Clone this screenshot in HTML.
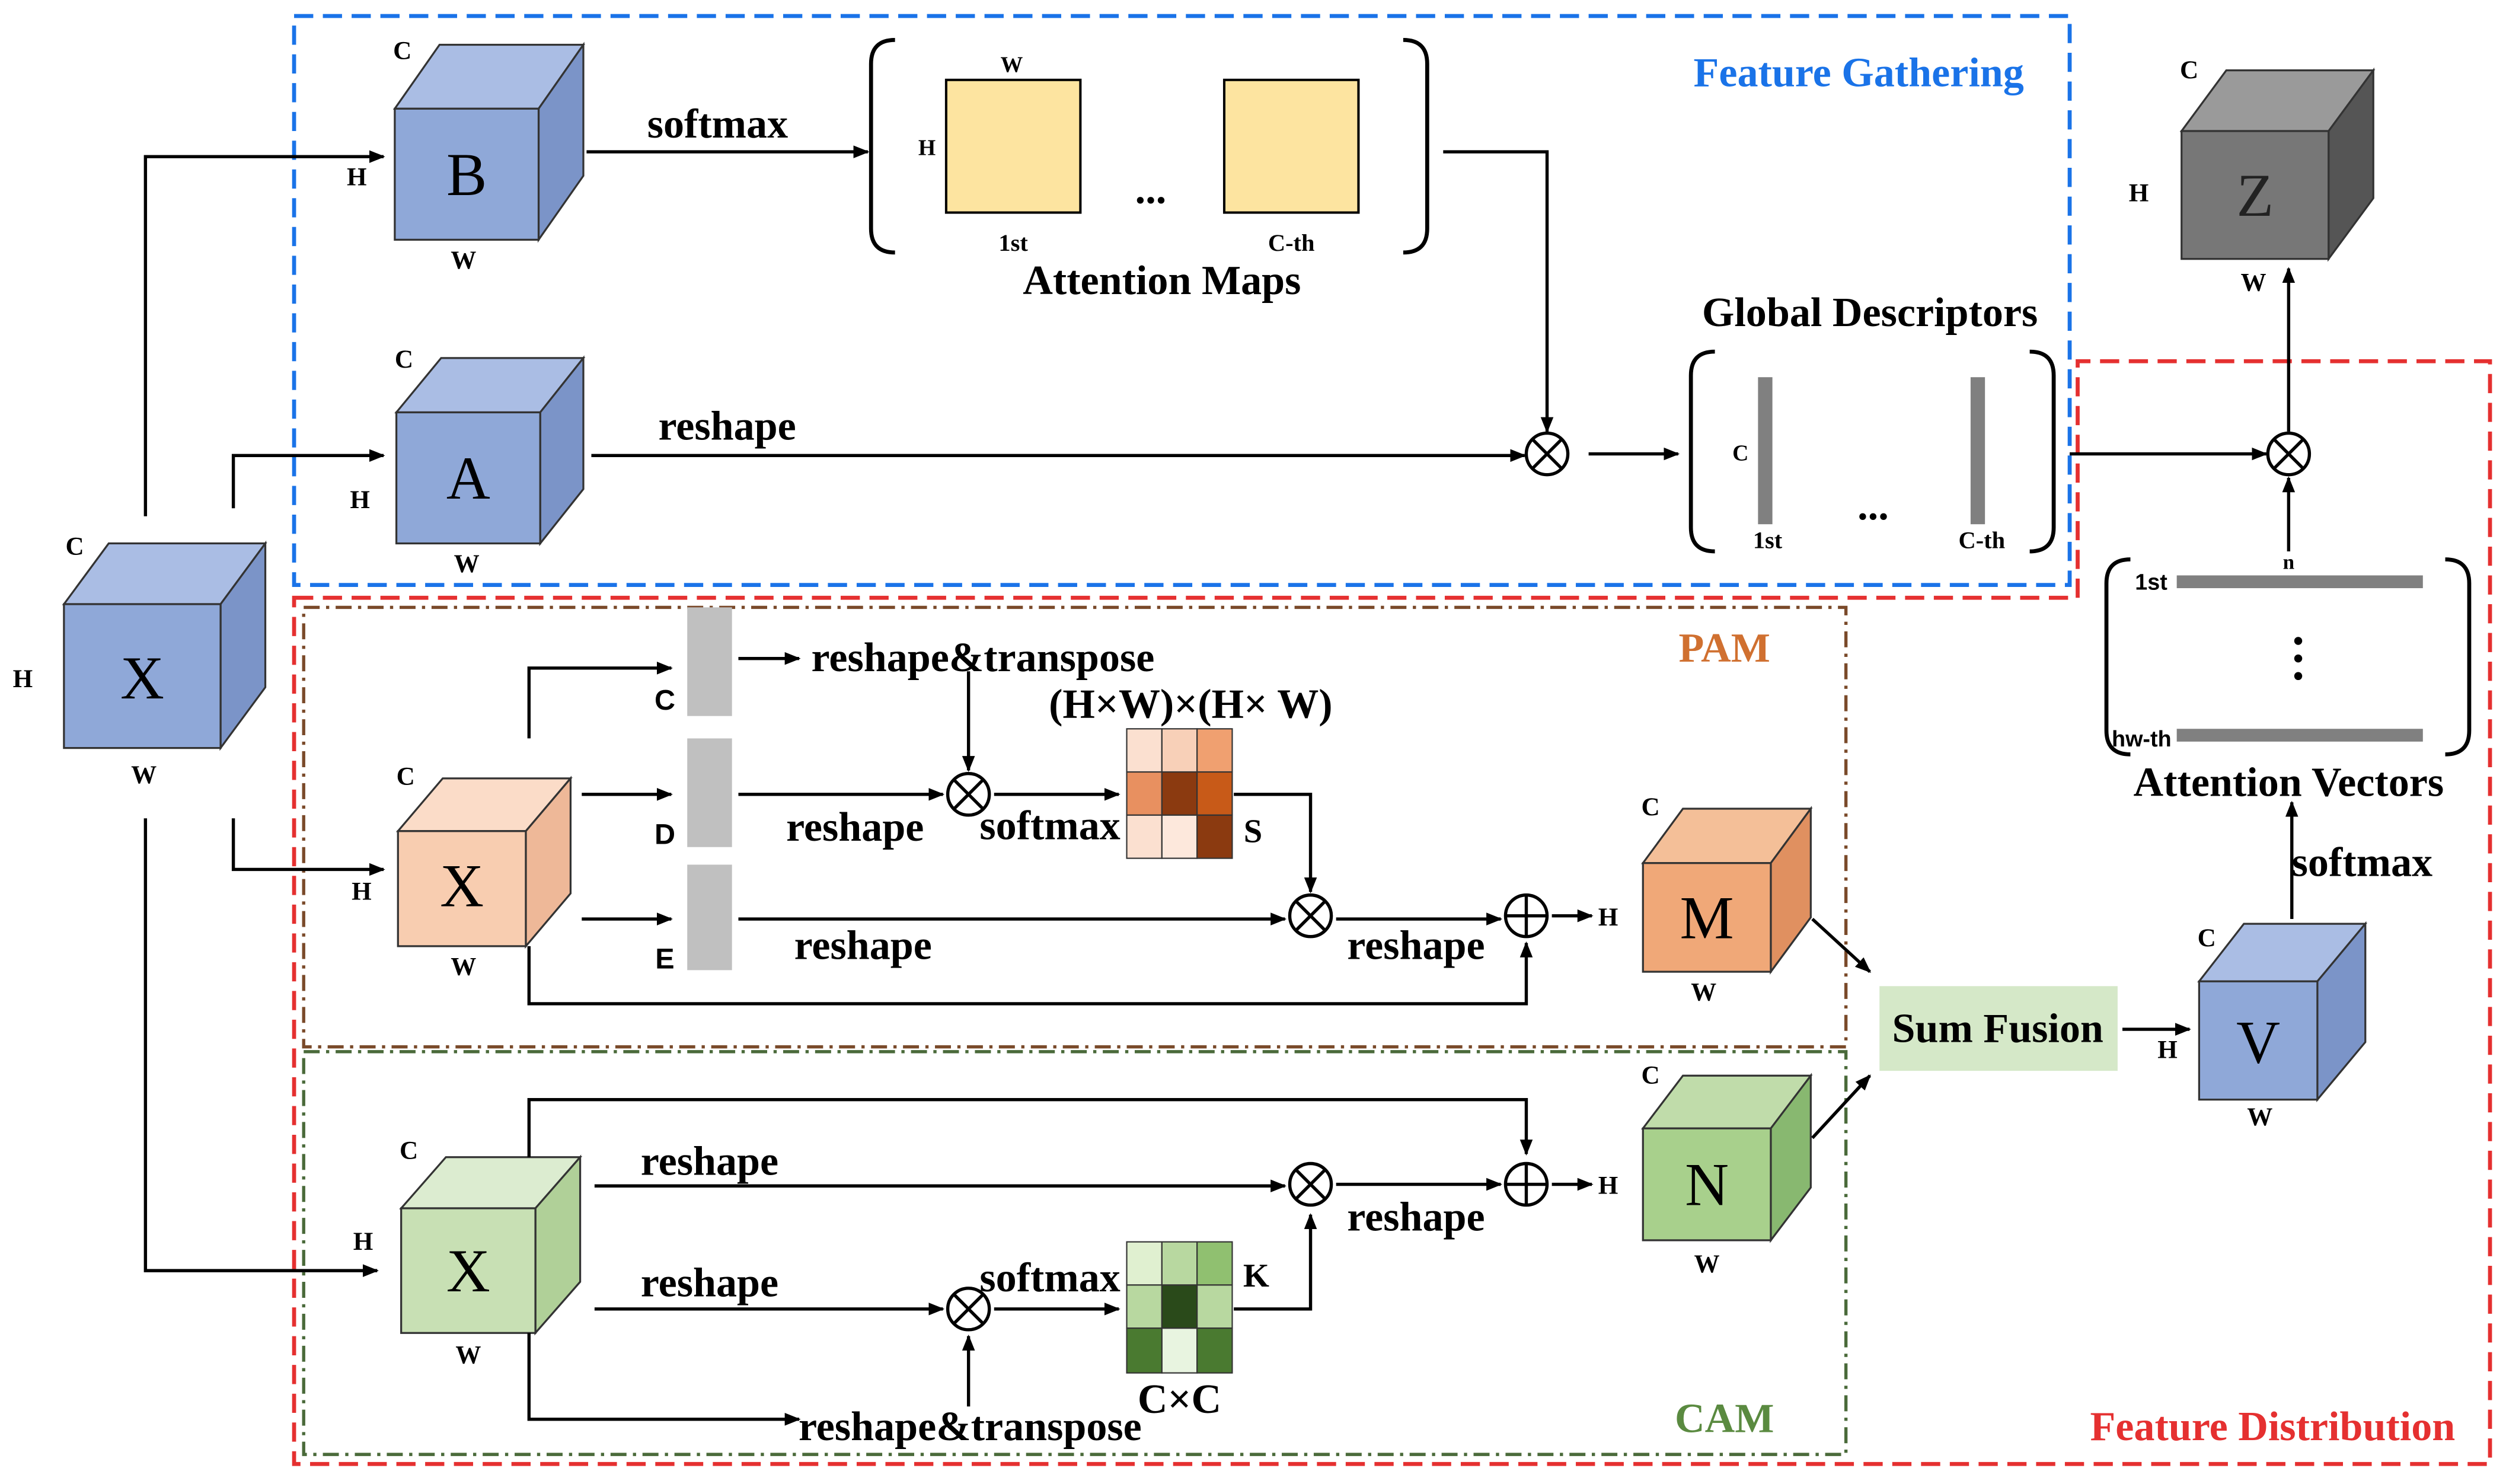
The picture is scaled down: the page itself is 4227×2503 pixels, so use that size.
<!DOCTYPE html>
<html><head><meta charset="utf-8"><style>
html,body{margin:0;padding:0;background:#fff}
svg{display:block}
text{font-family:"Liberation Serif",serif;font-weight:bold;fill:#000}
.s{font-size:26px}
.sm{font-size:16px}
.big{font-size:38px;font-weight:normal}
.sans{font-family:"Liberation Sans",sans-serif}
</style></head><body>
<svg width="4227" height="2503" viewBox="0 0 1568 928.5" xmlns="http://www.w3.org/2000/svg">
<defs>
<marker id="ar" markerWidth="10" markerHeight="10" refX="9" refY="5" orient="auto" markerUnits="userSpaceOnUse"><path d="M0,1 L10,5 L0,9 z" fill="#000"/></marker>
</defs>
<rect width="1568" height="928.5" fill="#fff"/>

<rect x="184" y="10" width="1111" height="356" fill="none" stroke="#1a73e8" stroke-width="2.5" stroke-dasharray="12,6"/>
<path d="M184,374 H1300 V226 H1558 V916 H184 Z" fill="none" stroke="#e53030" stroke-width="2.5" stroke-dasharray="12,6"/>
<rect x="190" y="380" width="965" height="275" fill="none" stroke="#7a4a2a" stroke-width="2" stroke-dasharray="10,4,2,4"/>
<rect x="190" y="658" width="965" height="252" fill="none" stroke="#4a6a3a" stroke-width="2" stroke-dasharray="10,4,2,4"/>
<text x="1163" y="54" class="s" text-anchor="middle" style="fill:#1a73e8">Feature Gathering</text>
<text x="1079" y="414" class="s" text-anchor="middle" style="fill:#d07030">PAM</text>
<text x="1079" y="896" class="s" text-anchor="middle" style="fill:#5a8a40">CAM</text>
<text x="1422" y="901" class="s" text-anchor="middle" style="fill:#e53030">Feature Distribution</text>

<g stroke="#333" stroke-width="1.2">
<polygon points="40,378 68,340 166,340 138,378" fill="#aabde4"/>
<polygon points="138,378 166,340 166,430 138,468" fill="#7b94c8"/>
<rect x="40" y="378" width="98" height="90" fill="#8fa8d8"/>
<polygon points="247,68 275,28 365,28 337,68" fill="#aabde4"/>
<polygon points="337,68 365,28 365,110 337,150" fill="#7b94c8"/>
<rect x="247" y="68" width="90" height="82" fill="#8fa8d8"/>
<polygon points="248,258 276,224 365,224 338,258" fill="#aabde4"/>
<polygon points="338,258 365,224 365,306 338,340" fill="#7b94c8"/>
<rect x="248" y="258" width="90" height="82" fill="#8fa8d8"/>
<polygon points="1365,82 1393,44 1485,44 1457,82" fill="#9a9a9a"/>
<polygon points="1457,82 1485,44 1485,124 1457,162" fill="#555"/>
<rect x="1365" y="82" width="92" height="80" fill="#777"/>
<polygon points="249,520 277,487 357,487 329,520" fill="#fbdcc8"/>
<polygon points="329,520 357,487 357,559 329,592" fill="#eeb898"/>
<rect x="249" y="520" width="80" height="72" fill="#f8cdb0"/>
<polygon points="1028,540 1053,506 1133,506 1108,540" fill="#f4bf98"/>
<polygon points="1108,540 1133,506 1133,574 1108,608" fill="#e09060"/>
<rect x="1028" y="540" width="80" height="68" fill="#f0a878"/>
<polygon points="251,756 279,724 363,724 335,756" fill="#dcecd0"/>
<polygon points="335,756 363,724 363,802 335,834" fill="#b0d098"/>
<rect x="251" y="756" width="84" height="78" fill="#c8e0b4"/>
<polygon points="1028,706 1053,673 1133,673 1108,706" fill="#c0dcaa"/>
<polygon points="1108,706 1133,673 1133,743 1108,776" fill="#88b870"/>
<rect x="1028" y="706" width="80" height="70" fill="#a8d08c"/>
<polygon points="1376,614 1404,578 1480,578 1450,614" fill="#aabde4"/>
<polygon points="1450,614 1480,578 1480,652 1450,688" fill="#7b94c8"/>
<rect x="1376" y="614" width="74" height="74" fill="#8fa8d8"/>
</g>

<text x="89" y="437" class="big" text-anchor="middle">X</text>
<text x="41" y="347" class="sm">C</text><text x="8" y="430" class="sm">H</text><text x="90" y="490" class="sm" text-anchor="middle">W</text>
<text x="292" y="122" class="big" text-anchor="middle">B</text>
<text x="246" y="37" class="sm">C</text><text x="217" y="116" class="sm">H</text><text x="290" y="168" class="sm" text-anchor="middle">W</text>
<text x="293" y="312" class="big" text-anchor="middle">A</text>
<text x="247" y="230" class="sm">C</text><text x="219" y="318" class="sm">H</text><text x="292" y="358" class="sm" text-anchor="middle">W</text>
<text x="1411" y="135" class="big" text-anchor="middle" style="fill:#222">Z</text>
<text x="1364" y="49" class="sm">C</text><text x="1332" y="126" class="sm">H</text><text x="1410" y="182" class="sm" text-anchor="middle">W</text>
<text x="289" y="567" class="big" text-anchor="middle">X</text>
<text x="248" y="491" class="sm">C</text><text x="220" y="563" class="sm">H</text><text x="290" y="610" class="sm" text-anchor="middle">W</text>
<text x="1068" y="587" class="big" text-anchor="middle">M</text>
<text x="1027" y="510" class="sm">C</text><text x="1066" y="626" class="sm" text-anchor="middle">W</text>
<text x="293" y="808" class="big" text-anchor="middle">X</text>
<text x="250" y="725" class="sm">C</text><text x="221" y="782" class="sm">H</text><text x="293" y="853" class="sm" text-anchor="middle">W</text>
<text x="1068" y="754" class="big" text-anchor="middle">N</text>
<text x="1027" y="678" class="sm">C</text><text x="1068" y="796" class="sm" text-anchor="middle">W</text>
<text x="1413" y="665" class="big" text-anchor="middle">V</text>
<text x="1375" y="592" class="sm">C</text><text x="1350" y="662" class="sm">H</text><text x="1414" y="704" class="sm" text-anchor="middle">W</text>

<g fill="none" stroke="#000" stroke-width="2.5">
<path d="M560,25 Q545,25 545,40 V143 Q545,158 560,158"/>
<path d="M878,25 Q893,25 893,40 V143 Q893,158 878,158"/>
<path d="M1073,220 Q1058,220 1058,235 V330 Q1058,345 1073,345"/>
<path d="M1270,220 Q1285,220 1285,235 V330 Q1285,345 1270,345"/>
<path d="M1333,350 Q1318,350 1318,365 V457 Q1318,472 1333,472"/>
<path d="M1530,350 Q1545,350 1545,365 V457 Q1545,472 1530,472"/>
</g>
<rect x="592" y="50" width="84" height="83" fill="#fde4a0" stroke="#000" stroke-width="1.5"/>
<rect x="766" y="50" width="84" height="83" fill="#fde4a0" stroke="#000" stroke-width="1.5"/>
<text x="720" y="127" class="s" text-anchor="middle">...</text>
<text x="633" y="45" class="sm" text-anchor="middle" style="font-size:14px">W</text>
<text x="580" y="97" class="sm" text-anchor="middle" style="font-size:14px">H</text>
<text x="634" y="157" class="sm" text-anchor="middle" style="font-size:15px">1st</text>
<text x="808" y="157" class="sm" text-anchor="middle" style="font-size:15px">C-th</text>
<text x="727" y="184" class="s" text-anchor="middle">Attention Maps</text>

<rect x="1100" y="236" width="9" height="92" fill="#808080"/>
<rect x="1233" y="236" width="9" height="92" fill="#808080"/>
<text x="1089" y="288" class="sm" text-anchor="middle" style="font-size:14px">C</text>
<text x="1172" y="325" class="s" text-anchor="middle">...</text>
<text x="1106" y="343" class="sm" text-anchor="middle" style="font-size:15px">1st</text>
<text x="1240" y="343" class="sm" text-anchor="middle" style="font-size:15px">C-th</text>
<text x="1170" y="204" class="s" text-anchor="middle">Global Descriptors</text>

<rect x="1362" y="360" width="154" height="8" fill="#808080"/>
<rect x="1362" y="456" width="154" height="8" fill="#808080"/>
<text x="1346" y="369" class="sm sans" text-anchor="middle" style="font-size:14px">1st</text>
<text x="1340" y="467" class="sm sans" text-anchor="middle" style="font-size:14px">hw-th</text>
<circle cx="1438" cy="401" r="2.5"/><circle cx="1438" cy="412" r="2.5"/><circle cx="1438" cy="423" r="2.5"/>
<text x="1432" y="498" class="s" text-anchor="middle">Attention Vectors</text>
<text x="1432" y="356" class="sm" text-anchor="middle" style="font-size:13px">n</text>

<rect x="1176" y="617" width="149" height="53" fill="#d5e8c8"/>
<text x="1250" y="652" class="s" text-anchor="middle">Sum Fusion</text>

<rect x="430" y="380" width="28" height="68" fill="#c0c0c0"/>
<rect x="430" y="462" width="28" height="68" fill="#c0c0c0"/>
<rect x="430" y="541" width="28" height="66" fill="#c0c0c0"/>
<text x="416" y="444" class="sm sans" text-anchor="middle" style="font-size:18px">C</text>
<text x="416" y="528" class="sm sans" text-anchor="middle" style="font-size:18px">D</text>
<text x="416" y="606" class="sm sans" text-anchor="middle" style="font-size:18px">E</text>

<g stroke="#333" stroke-width="0.8">
<rect x="705" y="456" width="22" height="27" fill="#fbe0d0"/><rect x="727" y="456" width="22" height="27" fill="#f8d0b8"/><rect x="749" y="456" width="22" height="27" fill="#f0a070"/>
<rect x="705" y="483" width="22" height="27" fill="#e89060"/><rect x="727" y="483" width="22" height="27" fill="#8b3a10"/><rect x="749" y="483" width="22" height="27" fill="#c85a18"/>
<rect x="705" y="510" width="22" height="27" fill="#fbe0d0"/><rect x="727" y="510" width="22" height="27" fill="#fde8dc"/><rect x="749" y="510" width="22" height="27" fill="#8b3a10"/>
<rect x="705" y="777" width="22" height="27" fill="#e0f0d0"/><rect x="727" y="777" width="22" height="27" fill="#b8d8a0"/><rect x="749" y="777" width="22" height="27" fill="#90c070"/>
<rect x="705" y="804" width="22" height="27" fill="#b8d8a0"/><rect x="727" y="804" width="22" height="27" fill="#2a4a1a"/><rect x="749" y="804" width="22" height="27" fill="#b8d8a0"/>
<rect x="705" y="831" width="22" height="28" fill="#4a7a30"/><rect x="727" y="831" width="22" height="28" fill="#e8f4e0"/><rect x="749" y="831" width="22" height="28" fill="#4a7a30"/>
</g>
<text x="784" y="527" class="s" text-anchor="middle" style="font-size:21px">S</text>
<text x="786" y="805" class="s" text-anchor="middle" style="font-size:21px">K</text>
<text x="745" y="449" class="s" text-anchor="middle">(H×W)×(H× W)</text>
<text x="738" y="884" class="s" text-anchor="middle">C×C</text>

<g fill="none" stroke="#000" stroke-width="2">
<path d="M91,323 V98 H240" marker-end="url(#ar)"/>
<path d="M146,318 V285 H240" marker-end="url(#ar)"/>
<path d="M146,512 V544 H240" marker-end="url(#ar)"/>
<path d="M91,512 V795 H236" marker-end="url(#ar)"/>
<path d="M367,95 H543" marker-end="url(#ar)"/>
<path d="M903,95 H968 V270" marker-end="url(#ar)"/>
<path d="M370,285 H954" marker-end="url(#ar)"/>
<path d="M994,284 H1050" marker-end="url(#ar)"/>
<path d="M1295,284 H1418" marker-end="url(#ar)"/>
<path d="M1432,270 V168" marker-end="url(#ar)"/>
<path d="M1432,345 V299" marker-end="url(#ar)"/>
<path d="M1434,575 V502" marker-end="url(#ar)"/>
<path d="M1328,644 H1370" marker-end="url(#ar)"/>
<path d="M1134,575 L1170,608" marker-end="url(#ar)"/>
<path d="M1134,712 L1170,673" marker-end="url(#ar)"/>
<path d="M331,462 V418 H420" marker-end="url(#ar)"/>
<path d="M462,412 H500" marker-end="url(#ar)"/>
<path d="M606,420 V482" marker-end="url(#ar)"/>
<path d="M364,497 H420" marker-end="url(#ar)"/>
<path d="M462,497 H590" marker-end="url(#ar)"/>
<path d="M622,497 H700" marker-end="url(#ar)"/>
<path d="M772,497 H820 V558" marker-end="url(#ar)"/>
<path d="M364,575 H420" marker-end="url(#ar)"/>
<path d="M462,575 H804" marker-end="url(#ar)"/>
<path d="M836,575 H939" marker-end="url(#ar)"/>
<path d="M971,573 H996" marker-end="url(#ar)"/>
<path d="M331,592 V628 H955 V590" marker-end="url(#ar)"/>
<path d="M331,724 V688 H955 V722" marker-end="url(#ar)"/>
<path d="M372,742 H804" marker-end="url(#ar)"/>
<path d="M836,741 H939" marker-end="url(#ar)"/>
<path d="M971,741 H996" marker-end="url(#ar)"/>
<path d="M372,819 H590" marker-end="url(#ar)"/>
<path d="M622,819 H700" marker-end="url(#ar)"/>
<path d="M772,819 H820 V760" marker-end="url(#ar)"/>
<path d="M331,834 V888 H500" marker-end="url(#ar)"/>
<path d="M606,880 V836" marker-end="url(#ar)"/>
</g>

<g fill="#fff" stroke="#000" stroke-width="2">
<circle cx="968" cy="284" r="13"/><path d="M959,275 L977,293 M977,275 L959,293"/>
<circle cx="1432" cy="284" r="13"/><path d="M1423,275 L1441,293 M1441,275 L1423,293"/>
<circle cx="606" cy="497" r="13"/><path d="M597,488 L615,506 M615,488 L597,506"/>
<circle cx="820" cy="573" r="13"/><path d="M811,564 L829,582 M829,564 L811,582"/>
<circle cx="820" cy="741" r="13"/><path d="M811,732 L829,750 M829,732 L811,750"/>
<circle cx="606" cy="819" r="13"/><path d="M597,810 L615,828 M615,810 L597,828"/>
<circle cx="955" cy="573" r="13"/><path d="M942,573 H968 M955,560 V586"/>
<circle cx="955" cy="741" r="13"/><path d="M942,741 H968 M955,728 V754"/>
</g>
<text x="1000" y="579" class="sm">H</text>
<text x="1000" y="747" class="sm">H</text>

<text x="449" y="86" class="s" text-anchor="middle">softmax</text>
<text x="455" y="275" class="s" text-anchor="middle">reshape</text>
<text x="1478" y="548" class="s" text-anchor="middle">softmax</text>
<text x="615" y="420" class="s" text-anchor="middle">reshape&amp;transpose</text>
<text x="535" y="526" class="s" text-anchor="middle">reshape</text>
<text x="657" y="525" class="s" text-anchor="middle">softmax</text>
<text x="540" y="600" class="s" text-anchor="middle">reshape</text>
<text x="886" y="600" class="s" text-anchor="middle">reshape</text>
<text x="444" y="735" class="s" text-anchor="middle">reshape</text>
<text x="886" y="770" class="s" text-anchor="middle">reshape</text>
<text x="444" y="811" class="s" text-anchor="middle">reshape</text>
<text x="657" y="808" class="s" text-anchor="middle">softmax</text>
<text x="607" y="901" class="s" text-anchor="middle">reshape&amp;transpose</text>
</svg>
</body></html>
